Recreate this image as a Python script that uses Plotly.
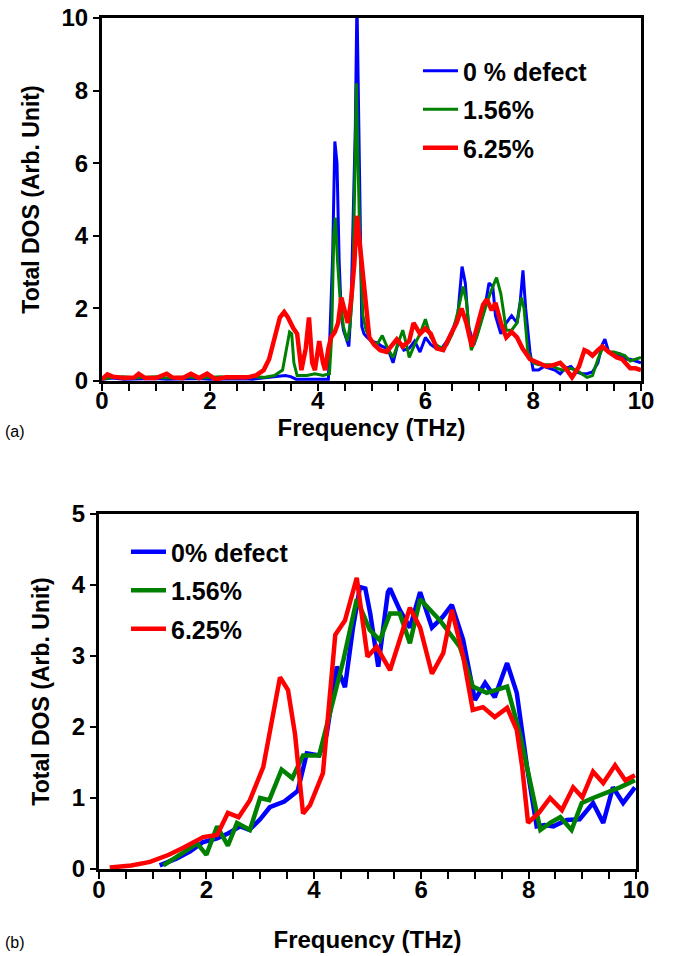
import plotly.graph_objects as go

# ---------------- panel (a): total DOS, 0-10 THz ----------------
a_blue_f = [0.0, 0.2, 0.4, 0.6, 0.8, 1.0, 1.2, 1.4, 1.6, 1.8, 2.0, 2.2, 2.4, 2.6, 2.8,
            3.0, 3.2, 3.4, 3.5, 3.6, 3.8, 4.0, 4.2, 4.25, 4.28, 4.32, 4.36, 4.40, 4.44,
            4.48, 4.52, 4.58, 4.62, 4.66, 4.70, 4.73, 4.76, 4.79, 4.82, 4.86, 4.92, 5.0,
            5.1, 5.2, 5.3, 5.4, 5.45, 5.5, 5.6, 5.7, 5.8, 5.9, 6.0, 6.1, 6.2, 6.3, 6.4,
            6.5, 6.6, 6.68, 6.74, 6.8, 6.9, 7.0, 7.1, 7.18, 7.25, 7.3, 7.4, 7.5, 7.6,
            7.7, 7.76, 7.81, 7.86, 7.94, 8.0, 8.1, 8.2, 8.3, 8.4, 8.5, 8.6, 8.7, 8.8,
            8.9, 9.0, 9.1, 9.2, 9.28, 9.33, 9.4, 9.5, 9.6, 9.7, 9.8, 9.9, 10.0]
a_blue_v = [0.05, 0.08, 0.05, 0.06, 0.05, 0.07, 0.05, 0.06, 0.05, 0.07, 0.05, 0.06, 0.05,
            0.06, 0.05, 0.08, 0.1, 0.15, 0.12, 0.05, 0.05, 0.05, 0.05, 2.2, 3.5, 6.6,
            6.0, 3.3, 1.8, 1.4, 1.2, 0.95, 2.0, 4.2, 7.0, 10.5, 7.1, 4.0, 1.5, 1.3, 1.2,
            1.1, 1.05, 0.95, 0.9, 0.5, 0.8, 1.1, 0.85, 0.9, 1.1, 0.8, 1.2, 1.0, 0.9, 0.9,
            1.1, 1.4, 1.8, 3.15, 2.7, 1.5, 1.0, 1.5, 2.0, 2.7, 2.6, 1.8, 1.3, 1.6, 1.8,
            1.6, 2.2, 3.05, 2.0, 0.8, 0.3, 0.3, 0.4, 0.35, 0.3, 0.2, 0.35, 0.4, 0.25,
            0.2, 0.2, 0.25, 0.5, 1.0, 1.15, 0.8, 0.7, 0.75, 0.6, 0.6, 0.55, 0.5]

a_green_f = [0.0, 0.2, 0.4, 0.6, 0.8, 1.0, 1.2, 1.4, 1.6, 1.8, 2.0, 2.2, 2.4, 2.6, 2.8,
             3.0, 3.2, 3.35, 3.42, 3.48, 3.52, 3.56, 3.62, 3.8, 3.95, 4.1, 4.22, 4.26,
             4.3, 4.33, 4.37, 4.42, 4.48, 4.55, 4.6, 4.65, 4.69, 4.72, 4.75, 4.79, 4.84,
             4.9, 5.0, 5.1, 5.2, 5.3, 5.4, 5.5, 5.58, 5.65, 5.7, 5.8, 5.9, 6.0, 6.1,
             6.2, 6.3, 6.4, 6.5, 6.6, 6.7, 6.76, 6.85, 6.95, 7.05, 7.15, 7.25, 7.32,
             7.4, 7.5, 7.6, 7.7, 7.78, 7.83, 7.9, 8.0, 8.1, 8.2, 8.3, 8.45, 8.55, 8.7,
             8.85, 9.0, 9.1, 9.2, 9.3, 9.4, 9.5, 9.6, 9.7, 9.8, 9.9, 10.0]
a_green_v = [0.05, 0.1, 0.12, 0.08, 0.1, 0.12, 0.08, 0.1, 0.12, 0.08, 0.1, 0.12, 0.08,
             0.1, 0.12, 0.1, 0.15, 0.3, 0.9, 1.35, 1.3, 0.5, 0.15, 0.15, 0.2, 0.15, 0.2,
             1.2, 4.0, 4.5, 3.3, 2.2, 1.5, 1.1, 1.5, 2.5, 5.5, 8.2, 6.0, 3.5, 1.8, 1.4,
             1.1, 1.0, 1.25, 0.9, 0.65, 1.1, 1.4, 1.0, 0.65, 1.0, 1.3, 1.7, 1.2, 1.0,
             0.9, 1.0, 1.3, 1.9, 2.6, 2.2, 0.85, 1.2, 1.7, 2.2, 2.6, 2.85, 2.4, 1.4,
             1.4, 1.6, 2.3, 2.0, 0.8, 0.5, 0.45, 0.45, 0.45, 0.35, 0.3, 0.35, 0.25, 0.1,
             0.15, 0.6, 0.95, 0.8, 0.8, 0.75, 0.7, 0.55, 0.6, 0.65]

a_red_f = [0.0, 0.1, 0.2, 0.4, 0.6, 0.68, 0.8, 1.0, 1.2, 1.3, 1.5, 1.65, 1.8, 1.95, 2.1,
           2.3, 2.5, 2.7, 2.85, 3.0, 3.1, 3.2, 3.3, 3.38, 3.45, 3.55, 3.62, 3.7, 3.78,
           3.84, 3.9, 3.95, 4.03, 4.1, 4.14, 4.2, 4.25, 4.32, 4.38, 4.44, 4.5, 4.56,
           4.62, 4.68, 4.73, 4.78, 4.84, 4.9, 4.96, 5.05, 5.16, 5.28, 5.38, 5.47, 5.58,
           5.7, 5.78, 5.9, 6.0, 6.1, 6.21, 6.33, 6.46, 6.58, 6.67, 6.76, 6.86, 6.96,
           7.07, 7.14, 7.23, 7.3, 7.4, 7.5, 7.6, 7.7, 7.8, 7.94, 8.1, 8.25, 8.4, 8.5,
           8.6, 8.72, 8.85, 8.95, 9.02, 9.1, 9.2, 9.28, 9.4, 9.55, 9.65, 9.8, 9.9, 10.0]
a_red_v = [0.05, 0.18, 0.12, 0.08, 0.1, 0.2, 0.08, 0.08, 0.2, 0.1, 0.08, 0.2, 0.08, 0.2,
           0.05, 0.1, 0.1, 0.1, 0.15, 0.3, 0.6, 1.2, 1.75, 1.9, 1.75, 1.45, 1.3, 0.3,
           0.9, 1.75, 0.5, 0.3, 1.1, 0.5, 0.3, 0.9, 1.2, 1.35, 1.6, 2.3, 2.0, 1.6, 2.2,
           3.2, 4.55, 3.8, 2.7, 1.8, 1.2, 1.0, 0.85, 0.8, 1.0, 1.15, 0.95, 1.1, 1.6,
           1.3, 1.45, 1.3, 0.9, 0.85, 1.25, 1.6, 2.0, 1.6, 0.95, 1.5, 2.1, 2.25, 1.95,
           2.15, 1.6, 1.2, 1.35, 1.2, 0.9, 0.6, 0.5, 0.4, 0.45, 0.5, 0.35, 0.1, 0.4,
           0.85, 0.8, 0.7, 0.85, 0.95, 0.8, 0.65, 0.6, 0.35, 0.35, 0.3]

# ---------------- panel (b): total DOS, 0-10 THz ----------------
b_blue_f = [1.13, 1.45, 1.7, 1.94, 2.2, 2.4, 2.63, 2.8, 3.0, 3.18, 3.45, 3.7, 3.87, 4.1,
            4.24, 4.43, 4.58, 4.73, 4.86, 4.96, 5.05, 5.2, 5.38, 5.42, 5.6, 5.79, 5.98,
            6.2, 6.4, 6.57, 6.78, 7.0, 7.19, 7.37, 7.6, 7.78, 7.97, 8.15, 8.3, 8.46,
            8.71, 8.95, 9.2, 9.39, 9.57, 9.76, 9.98]
b_blue_v = [0.05, 0.15, 0.25, 0.38, 0.43, 0.5, 0.6, 0.55, 0.7, 0.87, 0.95, 1.1, 1.63,
            1.6, 1.9, 2.85, 2.56, 3.4, 3.97, 3.95, 3.6, 2.85, 3.9, 3.95, 3.65, 3.4,
            3.9, 3.4, 3.55, 3.72, 3.23, 2.38, 2.62, 2.42, 2.9, 2.48, 1.44, 0.6, 0.62,
            0.6, 0.69, 0.7, 0.93, 0.65, 1.15, 0.93, 1.15]

b_green_f = [1.2, 1.45, 1.83, 2.0, 2.2, 2.4, 2.57, 2.81, 3.0, 3.17, 3.4, 3.6, 3.8, 4.1,
             4.3, 4.55, 4.8, 5.04, 5.23, 5.42, 5.6, 5.79, 5.98, 6.35, 6.72, 6.96, 7.22,
             7.6, 7.84, 8.03, 8.22, 8.4, 8.59, 8.8, 8.99, 9.2, 9.46, 9.7, 9.98]
b_green_v = [0.05, 0.17, 0.36, 0.2, 0.6, 0.33, 0.65, 0.55, 1.0, 0.97, 1.4, 1.28, 1.6,
             1.6, 2.2, 2.94, 3.8, 3.37, 3.22, 3.6, 3.6, 3.18, 3.8, 3.5, 3.13, 2.57, 2.48,
             2.57, 1.9, 1.2, 0.55, 0.65, 0.73, 0.55, 0.93, 1.0, 1.07, 1.15, 1.25]

b_red_f = [0.2, 0.6, 0.95, 1.3, 1.57, 1.94, 2.2, 2.4, 2.6, 2.81, 3.06, 3.2, 3.37, 3.52,
           3.65, 3.8, 3.93, 4.17, 4.4, 4.58, 4.8, 5.0, 5.17, 5.42, 5.79, 5.98, 6.2,
           6.41, 6.57, 6.78, 6.96, 7.15, 7.37, 7.6, 7.78, 7.88, 7.99, 8.2, 8.4, 8.62,
           8.83, 9.0, 9.2, 9.39, 9.61, 9.8, 9.98]
b_red_v = [0.02, 0.05, 0.1, 0.2, 0.3, 0.45, 0.48, 0.79, 0.73, 0.97, 1.44, 2.0, 2.7,
           2.52, 1.9, 0.78, 0.9, 1.35, 3.3, 3.5, 4.1, 2.99, 3.13, 2.8, 3.68, 3.4, 2.75,
           3.04, 3.65, 3.0, 2.24, 2.28, 2.14, 2.27, 1.96, 1.44, 0.65, 0.8, 1.0, 0.83,
           1.15, 1.01, 1.37, 1.21, 1.46, 1.25, 1.32]

a_names = ["0 % defect", "1.56%", "6.25%"]
b_names = ["0% defect", "1.56%", "6.25%"]
colors = ["#0000ff", "#008000", "#ff0000"]

a_ticks = [0, 2, 4, 6, 8, 10]
b_yticks = [0, 1, 2, 3, 4, 5]
x_ticks = [0, 2, 4, 6, 8, 10]

W, H = 677, 956
FONT = "Liberation Sans, Arial, sans-serif"

fig = go.Figure()

a_series = [(a_blue_f, a_blue_v), (a_green_f, a_green_v), (a_red_f, a_red_v)]
a_widths = [3, 3, 4.5]
for i, ((f, v), name, col, lw) in enumerate(zip(a_series, a_names, colors, a_widths)):
    fig.add_trace(go.Scatter(x=f, y=v, mode="lines", name=name,
                             line=dict(color=col, width=lw),
                             legendgroup="a%d" % i,
                             xaxis="x", yaxis="y", legend="legend"))

b_series = [(b_blue_f, b_blue_v), (b_green_f, b_green_v), (b_red_f, b_red_v)]
for i, ((f, v), name, col) in enumerate(zip(b_series, b_names, colors)):
    fig.add_trace(go.Scatter(x=f, y=v, mode="lines", name=name,
                             line=dict(color=col, width=4.5),
                             legendgroup="b%d" % i,
                             xaxis="x2", yaxis="y2", legend="legend2"))


def px_x(p):
    return p / W


def px_y(p):
    return 1 - p / H


tick_font = dict(family=FONT, size=24, color="black", weight="bold")
title_font = dict(family=FONT, size=24, color="black", weight="bold")
ytitle_font = dict(family=FONT, size=23, color="black", weight="bold")

common_x = dict(range=[0, 10], tickvals=x_ticks, ticks="outside", ticklen=7,
                tickwidth=2, tickcolor="black", showline=True, linewidth=3,
                linecolor="black", mirror=True, showgrid=False, zeroline=False,
                tickfont=tick_font, automargin=False,
                minor=dict(dtick=0.5, ticks="outside", ticklen=7, tickwidth=2,
                           tickcolor="black", showgrid=False))
common_y = dict(ticks="outside", ticklen=6, tickwidth=2, tickcolor="black",
                showline=True, linewidth=3, linecolor="black", mirror=True,
                showgrid=False, zeroline=False, tickfont=tick_font, automargin=False)

legend_common = dict(font=dict(family=FONT, size=25, color="black", weight="bold"),
                     bgcolor="rgba(0,0,0,0)", borderwidth=0, traceorder="grouped",
                     itemwidth=35, tracegroupgap=3,
                     xanchor="left", yanchor="top")

fig.update_layout(
    width=W, height=H,
    margin=dict(l=0, r=0, t=0, b=0),
    paper_bgcolor="white", plot_bgcolor="white",
    showlegend=True,
    xaxis=dict(domain=[px_x(102), px_x(641)], anchor="y", ticklabelstandoff=-11,
               title=dict(text="Frequency (THz)", font=title_font, standoff=1),
               **common_x),
    yaxis=dict(domain=[px_y(381), px_y(18)], anchor="x", range=[0, 10],
               tickvals=a_ticks,
               title=dict(text="Total DOS (Arb. Unit)", font=ytitle_font, standoff=16),
               **common_y),
    xaxis2=dict(domain=[px_x(99), px_x(636)], anchor="y2", ticklabelstandoff=-10,
                title=dict(text="Frequency (THz)", font=title_font, standoff=30),
                **common_x),
    yaxis2=dict(domain=[px_y(869), px_y(514)], anchor="x2", range=[0, 5],
                tickvals=b_yticks,
                title=dict(text="Total DOS (Arb. Unit)", font=ytitle_font, standoff=16),
                **common_y),
    legend=dict(x=px_x(418), y=px_y(48), **legend_common),
    legend2=dict(x=px_x(126), y=px_y(529), **legend_common),
    annotations=[
        dict(text="(a)", x=px_x(3), y=px_y(431), xref="paper", yref="paper",
             xanchor="left", yanchor="middle", showarrow=False,
             font=dict(family=FONT, size=16, color="black")),
        dict(text="(b)", x=px_x(3), y=px_y(942), xref="paper", yref="paper",
             xanchor="left", yanchor="middle", showarrow=False,
             font=dict(family=FONT, size=16, color="black")),
    ],
)

fig.write_html("out.html")
